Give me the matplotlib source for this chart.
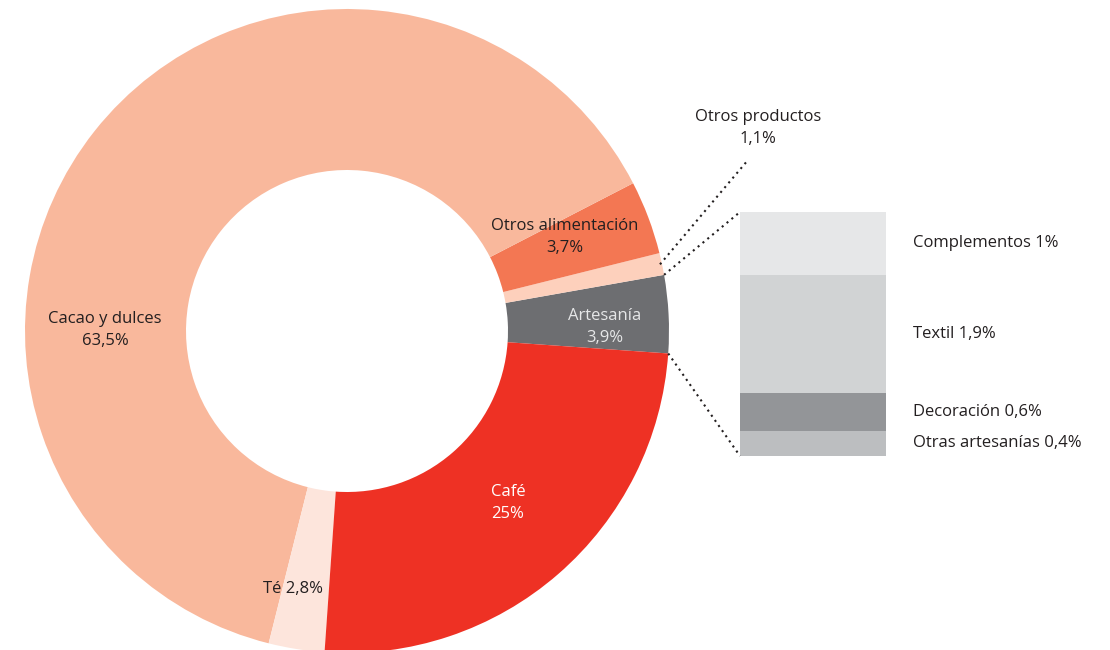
import numpy as np
import matplotlib.pyplot as plt

plt.rcParams['font.family'] = ['Open Sans', 'DejaVu Sans']

# reparto por categorías (%)
categorias = ['Artesanía', 'Otros productos', 'Otros alimentación',
              'Cacao y dulces', 'Té', 'Café']
valores = [3.9, 1.1, 3.7, 63.5, 2.8, 25.0]
colores = ['#6d6e71', '#fdd0bc', '#f37753', '#f9b89c', '#fde5dc', '#ee3124']

# desglose de artesanía (%)
sub_cats = ['Complementos', 'Textil', 'Decoración', 'Otras artesanías']
sub_vals = [1.0, 1.9, 0.6, 0.4]
sub_cols = ['#e6e7e8', '#d1d3d4', '#939598', '#bcbec0']

fig = plt.figure(figsize=(11.1, 6.5), dpi=100)
ax = fig.add_axes([0, 0, 1, 1])

H = 650
cx, cy, R = 347, H - 331, 322
wedges, _ = ax.pie(valores, colors=colores, startangle=-4, counterclock=True,
                   radius=R, center=(cx, cy),
                   wedgeprops=dict(width=R * 0.5, linewidth=0))

def punto(ang, r):
    a = np.deg2rad(ang)
    return cx + r * np.cos(a), cy + r * np.sin(a)

# barra apilada con el desglose
bx, bw, btop, bh = 740, 146, H - 212, 244
escala = bh / sum(sub_vals)
y = btop
for nom, v, c in zip(sub_cats, sub_vals, sub_cols):
    h = v * escala
    ax.bar(bx + bw / 2, h, width=bw, bottom=y - h, color=c, linewidth=0)
    txt = f'{nom} {v:g}%'.replace('.', ',')
    ax.text(913, y - h / 2, txt, fontsize=12, va='center', ha='left', color='#231f20')
    y -= h

# líneas punteadas de artesanía hacia la barra
punteado = dict(ls=(0, (1, 2)), color='#231f20', lw=1.5)
art = wedges[0]
x1, y1 = punto(art.theta2, R)
x2, y2 = punto(art.theta1, R)
ax.plot([x1, bx], [y1, btop], **punteado)
ax.plot([x2, bx], [y2, btop - bh], **punteado)

# línea de otros productos
op = wedges[1]
x3, y3 = punto((op.theta1 + op.theta2) / 2, R - 2)
ax.plot([x3, 748], [y3, H - 160], **punteado)

kw = dict(fontsize=12, ha='center', va='center', linespacing=1.45)
ax.text(758, H - 128, 'Otros productos\n1,1%', color='#231f20', **kw)
ax.text(565, H - 237, 'Otros alimentación\n3,7%', color='#231f20', **kw)
ax.text(605, H - 327, 'Artesanía\n3,9%', color='#e6e7e8', **kw)
ax.text(105, H - 330, 'Cacao y dulces\n63,5%', color='#231f20', **kw)
ax.text(508, H - 503, 'Café\n25%', color='white', **kw)
ax.text(293, H - 589, 'Té 2,8%', color='#231f20', **kw)

ax.set_xlim(0, 1110)
ax.set_ylim(0, H)
ax.set_aspect('equal')
ax.axis('off')

fig.savefig('out.png', dpi=100)
